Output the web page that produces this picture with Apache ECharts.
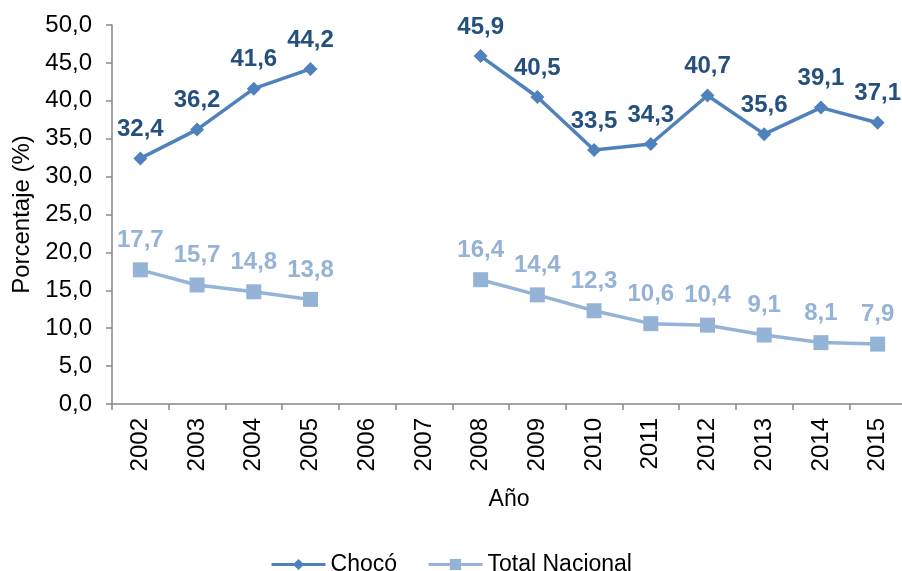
<!DOCTYPE html>
<html>
<head>
<meta charset="utf-8">
<script src="https://cdn.jsdelivr.net/npm/echarts@6/dist/echarts.min.js"></script>
<style>
  html, body { margin: 0; padding: 0; background: #fff; }
  #chart { width: 902px; height: 571px; }
</style>
</head>
<body>
<div id="chart"></div>
<script>
  const years = ['2002', '2003', '2004', '2005', '2006', '2007', '2008', '2009', '2010', '2011', '2012', '2013', '2014', '2015'];
  const choco = [32.4, 36.2, 41.6, 44.2, null, null, 45.9, 40.5, 33.5, 34.3, 40.7, 35.6, 39.1, 37.1];
  const nacional = [17.7, 15.7, 14.8, 13.8, null, null, 16.4, 14.4, 12.3, 10.6, 10.4, 9.1, 8.1, 7.9];

  const fmt = v => v.toFixed(1).replace('.', ',');
  const font = 'Liberation Sans, Arial, sans-serif';

  const charts = echarts.init(document.getElementById('chart'));
  charts.setOption({
    animation: false,
    textStyle: { fontFamily: font },
    grid: { left: 112, top: 25, width: 794, height: 379, outerBoundsMode: 'none', containLabel: false },
    legend: {
      top: 548,
      left: 'center',
      itemWidth: 54,
      itemHeight: 14,
      itemGap: 30,
      lineStyle: { width: 3 },
      textStyle: { fontSize: 23, color: '#000', fontFamily: font },
      data: ['Chocó', 'Total Nacional']
    },
    xAxis: {
      type: 'category',
      data: years,
      name: 'Año',
      nameLocation: 'middle',
      nameGap: 84,
      nameTextStyle: { fontSize: 23, color: '#000' },
      axisLine: { lineStyle: { color: '#868686', width: 1.5 } },
      axisTick: { show: true, length: 6, lineStyle: { color: '#868686', width: 1.5 } },
      axisLabel: { rotate: 90, fontSize: 24, color: '#000', margin: 14 }
    },
    yAxis: {
      type: 'value',
      min: 0,
      max: 50,
      interval: 5,
      name: 'Porcentaje (%)',
      nameLocation: 'middle',
      nameGap: 75,
      nameTextStyle: { fontSize: 24, color: '#000' },
      splitLine: { show: false },
      axisLine: { show: true, lineStyle: { color: '#868686', width: 1.5 } },
      axisTick: { show: true, length: 6, lineStyle: { color: '#868686', width: 1.5 } },
      axisLabel: { fontSize: 24, color: '#000', margin: 20, formatter: fmt }
    },
    series: [
      {
        name: 'Chocó',
        type: 'line',
        data: choco,
        connectNulls: false,
        symbol: 'diamond',
        symbolSize: 14,
        lineStyle: { color: '#4F81BD', width: 3.5 },
        itemStyle: { color: '#4F81BD' },
        label: {
          show: true,
          position: 'top',
          distance: 10,
          fontSize: 24,
          fontWeight: 'bold',
          color: '#24507F',
          formatter: p => fmt(p.value)
        }
      },
      {
        name: 'Total Nacional',
        type: 'line',
        data: nacional,
        connectNulls: false,
        symbol: 'rect',
        symbolSize: 15,
        lineStyle: { color: '#95B3D7', width: 3.5 },
        itemStyle: { color: '#95B3D7' },
        label: {
          show: true,
          position: 'top',
          distance: 10,
          fontSize: 24,
          fontWeight: 'bold',
          color: '#95B3D7',
          formatter: p => fmt(p.value)
        }
      }
    ]
  });
</script>
</body>
</html>
